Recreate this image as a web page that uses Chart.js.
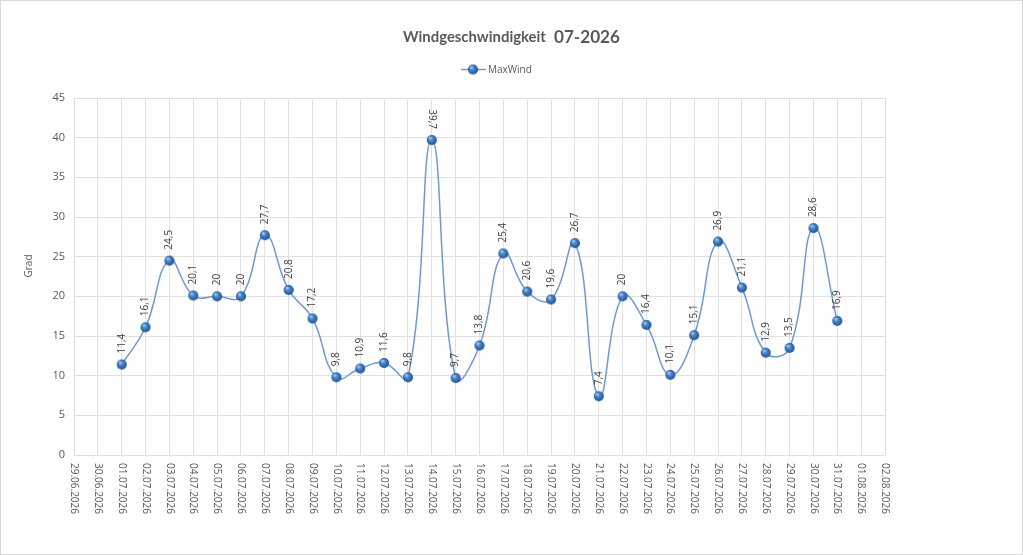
<!DOCTYPE html>
<html>
<head>
<meta charset="utf-8">
<script src="https://cdn.jsdelivr.net/npm/chart.js@4"></script>
<style>
html,body{margin:0;padding:0;background:#fff;}
#wrap{position:relative;width:1023px;height:555px;box-sizing:border-box;border:1px solid #d9d9d9;}
canvas{display:block;}
</style>
</head>
<body>
<div id="wrap"><canvas id="c"></canvas></div>
<script>
const titleMain = 'Windgeschwindigkeit';
const titleMonth = '07-2026';
const seriesName = 'MaxWind';
const yAxisTitle = 'Grad';
const categories = ['29.06.2026','30.06.2026','01.07.2026','02.07.2026','03.07.2026','04.07.2026','05.07.2026','06.07.2026','07.07.2026','08.07.2026','09.07.2026','10.07.2026','11.07.2026','12.07.2026','13.07.2026','14.07.2026','15.07.2026','16.07.2026','17.07.2026','18.07.2026','19.07.2026','20.07.2026','21.07.2026','22.07.2026','23.07.2026','24.07.2026','25.07.2026','26.07.2026','27.07.2026','28.07.2026','29.07.2026','30.07.2026','31.07.2026','01.08.2026','02.08.2026'];
const maxWind = [null,null,11.4,16.1,24.5,20.1,20,20,27.7,20.8,17.2,9.8,10.9,11.6,9.8,39.7,9.7,13.8,25.4,20.6,19.6,26.7,7.4,20,16.4,10.1,15.1,26.9,21.1,12.9,13.5,28.6,16.9,null,null];
const yMin = 0, yMax = 45, yStep = 5;

function makeMarker(r){
  const s = r*2+2;
  const cv = document.createElement('canvas');
  cv.width = s; cv.height = s;
  const g = cv.getContext('2d');
  const cx = s/2, cy = s/2;
  const grd = g.createRadialGradient(cx-r*0.35, cy-r*0.45, r*0.1, cx, cy, r);
  grd.addColorStop(0, '#a9cdf0');
  grd.addColorStop(0.35, '#4a8bd0');
  grd.addColorStop(0.8, '#2a62a8');
  grd.addColorStop(1, '#1d4a85');
  g.beginPath(); g.arc(cx, cy, r, 0, Math.PI*2); g.fillStyle = grd; g.fill();
  return cv;
}
const marker = makeMarker(5);
const legendMarker = makeMarker(5);

const FONT = '"Open Sans", "Liberation Sans", sans-serif';
const TFONT = 'Lato, "Open Sans", sans-serif';

function fitFont(ctx, text, weight, target){
  ctx.font = weight + ' 20px ' + TFONT;
  const w = ctx.measureText(text).width;
  return weight + ' ' + (20*target/w).toFixed(2) + 'px ' + TFONT;
}

const textPlugin = {
  id: 'texts',
  afterDraw(chart){
    const ctx = chart.ctx;
    const xs = chart.scales.x, ys = chart.scales.y;
    ctx.save();
    // title
    ctx.fillStyle = '#595959';
    ctx.textBaseline = 'alphabetic'; ctx.textAlign = 'left';
    ctx.font = fitFont(ctx, titleMain, 'bold', 143);
    ctx.fillText(titleMain, 402, 41);
    ctx.font = fitFont(ctx, titleMonth, 'bold', 66);
    ctx.fillText(titleMonth, 553, 42);
    // legend
    ctx.strokeStyle = '#6a9bd8'; ctx.lineWidth = 1.5;
    ctx.beginPath(); ctx.moveTo(460, 68.5); ctx.lineTo(485, 68.5); ctx.stroke();
    ctx.drawImage(legendMarker, 472 - legendMarker.width/2, 68.5 - legendMarker.height/2);
    ctx.font = '10px ' + FONT;
    ctx.textAlign = 'left'; ctx.textBaseline = 'middle';
    ctx.fillText(seriesName, 487, 69);
    // y axis title
    ctx.save();
    ctx.translate(28, 265); ctx.rotate(-Math.PI/2);
    ctx.textAlign = 'center'; ctx.font = '10px ' + FONT;
    ctx.fillText(yAxisTitle, 0, 0);
    ctx.restore();
    // x labels rotated clockwise
    ctx.font = '10px ' + FONT;
    categories.forEach((c, i) => {
      const x = xs.getPixelForValue(i);
      ctx.save();
      ctx.translate(x, ys.bottom + 8); ctx.rotate(Math.PI/2);
      ctx.textAlign = 'left'; ctx.textBaseline = 'middle';
      ctx.fillStyle = '#595959';
      ctx.fillText(c, 0, 0);
      ctx.restore();
    });
    // data labels
    ctx.fillStyle = '#404040';
    ctx.font = '10px ' + FONT;
    maxWind.forEach((v, i) => {
      if (v === null) return;
      const x = xs.getPixelForValue(i), y = ys.getPixelForValue(v);
      const t = String(v).replace('.', ',');
      ctx.save();
      ctx.translate(x, y - 11);
      if (v === 39.7) {
        ctx.rotate(Math.PI/2); ctx.textAlign = 'right';
      } else {
        ctx.rotate(-Math.PI/2); ctx.textAlign = 'left';
      }
      ctx.textBaseline = 'middle';
      ctx.fillText(t, 0, 0);
      ctx.restore();
    });
    ctx.restore();
  }
};

new Chart(document.getElementById('c'), {
  type: 'line',
  data: {
    labels: categories,
    datasets: [{
      label: seriesName,
      data: maxWind,
      borderColor: '#6a9bd8',
      borderWidth: 1.5,
      tension: 0.45,
      pointStyle: marker,
      pointRadius: 5,
      pointHoverRadius: 5,
      fill: false,
      spanGaps: false
    }]
  },
  options: {
    responsive: true,
    maintainAspectRatio: false,
    animation: false,
    devicePixelRatio: 1,
    events: [],
    layout: { padding: { left: 10, right: 137, top: 97, bottom: 99 } },
    plugins: { legend: { display: false }, title: { display: false }, tooltip: { enabled: false } },
    scales: {
      x: {
        type: 'category',
        offset: false,
        grid: { color: '#e0e0e0', drawTicks: false, lineWidth: 1 },
        border: { display: false },
        ticks: { display: false },
        afterFit(s){ s.height = 0; }
      },
      y: {
        min: yMin, max: yMax,
        grid: { color: '#e0e0e0', drawTicks: false, lineWidth: 1 },
        border: { display: false },
        ticks: { stepSize: yStep, padding: 9, color: '#595959', font: { family: FONT, size: 11 } },
        afterFit(s){ s.width = 63; }
      }
    }
  },
  plugins: [textPlugin]
});
</script>
</body>
</html>
